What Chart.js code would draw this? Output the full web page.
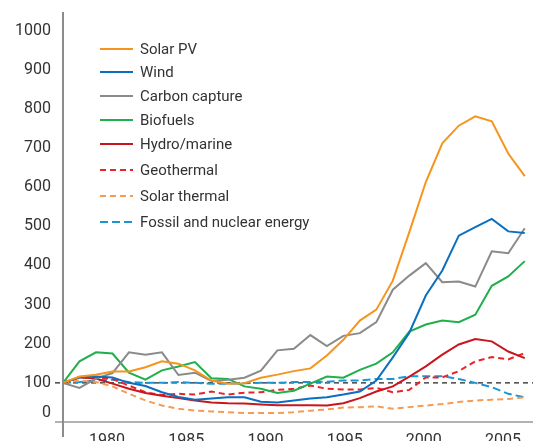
<!DOCTYPE html>
<html lang="en">
<head>
<meta charset="UTF-8">
<title>Index</title>
<script src="https://cdn.jsdelivr.net/npm/chart.js@4.4.1/dist/chart.umd.min.js"></script>
<style>
    html, body { margin: 0; padding: 0; background: #fff; }
    .wrap { width: 533px; height: 441px; }
</style>
</head>
<body>
<div class="wrap"><canvas id="grafica" width="533" height="441"></canvas></div>
<script>
// years on the x axis
const years = [1978, 1979, 1980, 1981, 1982, 1983, 1984, 1985, 1986, 1987,
               1988, 1989, 1990, 1991, 1992, 1993, 1994, 1995, 1996, 1997,
               1998, 1999, 2000, 2001, 2002, 2003, 2004, 2005, 2006];
const xTickYears = [1980, 1985, 1990, 1995, 2000, 2005];

// index values (1978 = 100)
const solarPV      = [100, 116, 121, 129, 129, 140, 155, 149, 132, 106, 98, 99, 113, 121, 130, 137, 170, 210, 259, 287, 361, 485, 613, 712, 757, 781, 768, 686, 628];
const wind         = [100, 114, 116, 114, 100, 92, 76, 64, 57, 60, 63, 63, 52, 50, 55, 60, 63, 70, 78, 106, 165, 228, 323, 387, 476, 498, 519, 487, 483];
const carbon       = [100, 87, 111, 125, 178, 172, 178, 120, 126, 105, 108, 113, 131, 183, 187, 222, 194, 220, 227, 255, 338, 374, 406, 357, 359, 346, 436, 431, 495];
const biofuels     = [100, 155, 178, 175, 126, 108, 132, 142, 153, 112, 110, 91, 85, 74, 80, 98, 116, 113, 133, 149, 178, 231, 249, 259, 255, 274, 348, 372, 411];
const hydro        = [100, 114, 111, 98, 85, 74, 67, 61, 55, 50, 48, 47, 45, 43, 43, 43, 42, 48, 61, 78, 91, 116, 142, 172, 198, 212, 206, 180, 163];
const geothermal   = [100, 114, 114, 110, 93, 76, 69, 72, 70, 78, 70, 75, 76, 82, 85, 93, 85, 83, 83, 87, 76, 82, 114, 114, 130, 155, 166, 160, 176];
const solarThermal = [100, 106, 102, 91, 72, 55, 42, 34, 29, 27, 25, 23, 23, 23, 25, 29, 32, 37, 38, 40, 34, 38, 42, 46, 51, 55, 57, 59, 63];
const fossil       = [100, 102, 106, 108, 102, 100, 100, 102, 100, 98, 98, 99, 100, 100, 102, 102, 103, 106, 106, 110, 110, 117, 117, 117, 110, 100, 89, 72, 63];

const baseline = 100;

const series = [
    { label: "Solar PV", data: solarPV, color: "#f7941d", dash: [] },
    { label: "Wind", data: wind, color: "#0b6fbf", dash: [] },
    { label: "Carbon capture", data: carbon, color: "#8a8a8a", dash: [] },
    { label: "Biofuels", data: biofuels, color: "#1fb04b", dash: [] },
    { label: "Hydro/marine", data: hydro, color: "#c8161e", dash: [] },
    { label: "Geothermal", data: geothermal, color: "#ec2227", dash: [6, 4] },
    { label: "Solar thermal", data: solarThermal, color: "#f79a52", dash: [6, 4] },
    { label: "Fossil and nuclear energy", data: fossil, color: "#1b96d4", dash: [8, 4] }
];

// axis lines, the dashed 100 line, the "0" label and the legend
const extras = {
    id: "extras",
    beforeDatasetsDraw(chart) {
        const { ctx, chartArea, scales } = chart;
        const y100 = scales.y.getPixelForValue(baseline);
        const y0 = scales.y.getPixelForValue(0);
        ctx.save();
        ctx.strokeStyle = "#222";
        ctx.lineWidth = 1.2;
        ctx.setLineDash([5, 4]);
        ctx.beginPath();
        ctx.moveTo(chartArea.left - 8, y100);
        ctx.lineTo(chartArea.right, y100);
        ctx.stroke();
        ctx.setLineDash([]);
        ctx.strokeStyle = "#666";
        ctx.lineWidth = 1.2;
        ctx.beginPath();
        ctx.moveTo(chartArea.left - 8, y0);
        ctx.lineTo(chartArea.right, y0);
        ctx.stroke();
        // the zero label sits a little above its line
        ctx.fillStyle = "#333";
        ctx.font = "16px Roboto";
        ctx.textAlign = "right";
        ctx.textBaseline = "middle";
        ctx.fillText("0", chartArea.left - 12, y0 - 9);
        ctx.restore();
    },
    afterDraw(chart) {
        const { ctx, chartArea } = chart;
        ctx.save();
        ctx.strokeStyle = "#8c8c8c";
        ctx.lineWidth = 2;
        ctx.beginPath();
        ctx.moveTo(chartArea.left, 12);
        ctx.lineTo(chartArea.left, chartArea.bottom + 15);
        ctx.stroke();

        const rows = [49, 72, 96, 120, 144, 170, 196, 222];
        ctx.font = "15px Roboto";
        ctx.textBaseline = "middle";
        chart.data.datasets.forEach((ds, i) => {
            ctx.strokeStyle = ds.borderColor;
            ctx.lineWidth = 2;
            ctx.setLineDash(ds.borderDash || []);
            ctx.beginPath();
            ctx.moveTo(100, rows[i]);
            ctx.lineTo(133, rows[i]);
            ctx.stroke();
            ctx.setLineDash([]);
            ctx.fillStyle = "#333";
            ctx.fillText(ds.label, 140, rows[i] + 1);
        });
        ctx.restore();
    }
};

new Chart(document.getElementById("grafica"), {
    type: "line",
    data: {
        datasets: series.map(s => ({
            label: s.label,
            data: s.data.map((v, i) => ({ x: years[i], y: v })),
            borderColor: s.color,
            backgroundColor: s.color,
            borderDash: s.dash,
            borderWidth: 2,
            pointRadius: 0,
            tension: 0
        }))
    },
    options: {
        responsive: false,
        animation: false,
        layout: { padding: { top: 11, right: 0, left: 0, bottom: 0 } },
        plugins: { legend: { display: false }, tooltip: { enabled: false } },
        scales: {
            x: {
                type: "linear",
                min: 1978,
                max: 2006.5,
                display: false
            },
            // label axis: the year labels in the source sit on a slightly tighter spacing
            xLabels: {
                type: "linear",
                position: "bottom",
                axis: "x",
                min: 1977.22,
                max: 2006.89,
                grid: { display: false },
                border: { display: false },
                afterBuildTicks: axis => { axis.ticks = xTickYears.map(v => ({ value: v })); },
                afterFit: axis => { axis.height = 19; axis.paddingLeft = 0; axis.paddingRight = 0; },
                ticks: {
                    padding: 1,
                    autoSkip: false,
                    maxRotation: 0,
                    color: "#333",
                    font: { family: "Roboto", size: 16 },
                    callback: v => String(v)
                }
            },
            y: {
                min: 0,
                max: 1050,
                grid: { display: false },
                border: { display: false },
                afterBuildTicks: axis => { axis.ticks = axis.ticks.filter(t => t.value % 100 === 0); },
                afterFit: axis => { axis.width = 63; axis.paddingTop = 0; axis.paddingBottom = 0; },
                ticks: {
                    stepSize: 100,
                    padding: 4,
                    color: "#333",
                    font: { family: "Roboto", size: 16 },
                    callback: v => (v === 0 ? "" : String(v))
                }
            }
        }
    },
    plugins: [extras]
});
</script>
</body>
</html>
